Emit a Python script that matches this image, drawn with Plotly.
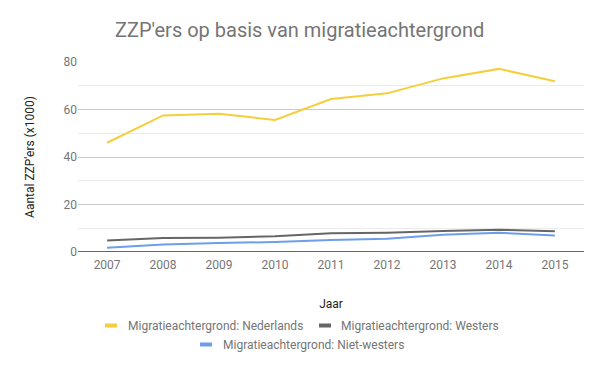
import plotly.graph_objects as go

years = [2007, 2008, 2009, 2010, 2011, 2012, 2013, 2014, 2015]
nederlands = [46.0, 57.5, 58.2, 55.6, 64.4, 66.8, 73.1, 77.1, 71.9]
westers = [4.8, 5.9, 6.0, 6.6, 7.9, 8.1, 8.8, 9.4, 8.7]
niet_westers = [1.8, 3.2, 3.8, 4.2, 5.1, 5.6, 7.3, 8.1, 6.9]

series_names = ["Migratieachtergrond: Nederlands", "Migratieachtergrond: Westers",
                "Migratieachtergrond: Niet-westers"]
series_values = [nederlands, westers, niet_westers]
colors = ["#F4CF3B", "#666666", "#6D9EEB"]

W, H = 603, 371
L, R, T, B = 78, 19, 62, 119
pw, ph = W - L - R, H - T - B

def px(x):
    return (x - L) / pw

def py(y):
    return (H - B - y) / ph

FONT = "Roboto, Arial, sans-serif"
GRAY = "#757575"

fig = go.Figure()
for name, vals, c in zip(series_names, series_values, colors):
    fig.add_trace(go.Scatter(x=years, y=vals, mode="lines", name=name,
                             line=dict(color=c, width=2), showlegend=False,
                             hoverinfo="skip"))

fig.update_layout(
    width=W, height=H,
    margin=dict(l=L, r=R, t=T, b=B, autoexpand=False),
    paper_bgcolor="white", plot_bgcolor="white",
    font=dict(family=FONT, color=GRAY, size=12),
    title=dict(text="ZZP'ers op basis van migratieachtergrond",
               x=115 / W, xanchor="left", xref="container",
               y=1 - 30 / H, yanchor="middle", yref="container",
               font=dict(size=20, color=GRAY, family=FONT)),
    xaxis=dict(range=[2006.48, 2015.52], tickvals=years, ticktext=[str(y) for y in years],
               showgrid=False, zeroline=False, showline=False, ticks="",
               automargin=False, ticklabelstandoff=4,
               tickfont=dict(size=12, color=GRAY),
               title=dict(text="Jaar", font=dict(size=12, color="#222222"), standoff=28)),
    yaxis=dict(range=[0, 80], tickvals=[0, 20, 40, 60, 80],
               showgrid=True, gridcolor="#CCCCCC", gridwidth=1,
               zeroline=False, showline=False, ticks="",
               automargin=False,
               tickfont=dict(size=12, color=GRAY),
               minor=dict(tickvals=[10, 30, 50, 70], showgrid=True, gridcolor="#EBEBEB", gridwidth=1),
               title=dict(text="Aantal ZZP'ers (x1000)", font=dict(size=12, color="#222222"), standoff=26)),
)

# baseline
fig.add_shape(type="line", xref="paper", yref="y", x0=0, x1=1, y0=0, y1=0,
              line=dict(color="#333333", width=1.5))

# custom centered legend
legend_items = [
    (0, 105, 125.7, 325.5),
    (1, 319, 339, 325.5),
    (2, 200, 221, 344.5),
]
for idx, kx, tx, ly in legend_items:
    fig.add_shape(type="rect", xref="paper", yref="paper",
                  x0=px(kx), x1=px(kx + 12), y0=py(ly - 2), y1=py(ly + 2),
                  fillcolor=colors[idx], line=dict(width=0))
    fig.add_annotation(xref="paper", yref="paper", x=px(tx), y=py(ly),
                       xanchor="left", yanchor="middle", showarrow=False,
                       text=series_names[idx], font=dict(size=12, color=GRAY, family=FONT))

fig.write_html("out.html", config={"displayModeBar": False},
               post_script="document.body.style.margin='0';")
